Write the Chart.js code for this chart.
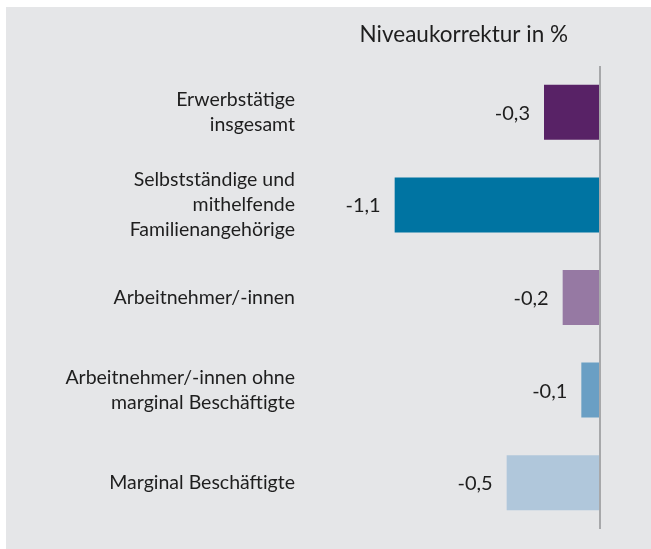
<!DOCTYPE html>
<html lang="de">
<head>
<meta charset="utf-8">
<title>Niveaukorrektur in %</title>
<script src="https://cdn.jsdelivr.net/npm/chart.js@4.4.2/dist/chart.umd.min.js"></script>
<style>
  html, body { margin: 0; padding: 0; background: #ffffff; }
  #panel {
    position: absolute; left: 6px; top: 7px;
    width: 645px; height: 542px;
    background: #e5e6e8;
  }
  #chart { display: block; }
</style>
</head>
<body>
<div id="panel"><canvas id="chart" width="645" height="542"></canvas></div>
<script>
// ── Data ───────────────────────────────────────────────────
const categories = [
  ['Erwerbstätige', 'insgesamt'],
  ['Selbstständige und', 'mithelfende', 'Familienangehörige'],
  'Arbeitnehmer/-innen',
  ['Arbeitnehmer/-innen ohne', 'marginal Beschäftigte'],
  'Marginal Beschäftigte',
];
const values = [-0.3, -1.1, -0.2, -0.1, -0.5];
const axisTitle = 'Niveaukorrektur in %';

const barColors = ['#582266', '#0074a2', '#9679a3', '#6a9fc4', '#b0c7db'];
const textColor = '#1e1e1e';
const fontFamily = 'Lato, "Open Sans", sans-serif';

const fmt = v => v.toFixed(1).replace('.', ',');

// value labels left of each bar + the axis title
const labelPlugin = {
  id: 'labels',
  afterDatasetsDraw(chart) {
    const { ctx, chartArea } = chart;
    ctx.save();
    ctx.fillStyle = textColor;
    ctx.font = '20px ' + fontFamily;
    ctx.textAlign = 'right';
    ctx.textBaseline = 'middle';
    chart.getDatasetMeta(0).data.forEach((bar, i) => {
      ctx.fillText(fmt(values[i]), bar.x - 14, bar.y + 1);
    });
    ctx.font = '22.5px ' + fontFamily;
    ctx.textBaseline = 'alphabetic';
    ctx.fillText(axisTitle, chartArea.right - 32, 35);
    ctx.restore();
  }
};

new Chart(document.getElementById('chart'), {
  type: 'bar',
  data: {
    labels: categories,
    datasets: [{
      data: values,
      backgroundColor: barColors,
      borderWidth: 0,
      categoryPercentage: 1,
      barPercentage: 0.594,
    }]
  },
  options: {
    indexAxis: 'y',
    responsive: false,
    animation: false,
    layout: { padding: { top: 59, right: 51, bottom: 20, left: 0 } },
    plugins: { legend: { display: false }, tooltip: { enabled: false } },
    scales: {
      x: {
        display: true,
        min: -1.5,
        max: 0,
        afterFit: s => { s.height = 0; s.paddingLeft = 0; s.paddingRight = 0; },
        ticks: { display: false, stepSize: 0.5 },
        border: { display: false },
        grid: {
          drawTicks: false,
          lineWidth: 2,
          color: c => (c.tick && c.tick.value === 0) ? '#a7a8aa' : 'rgba(0,0,0,0)',
        },
      },
      y: {
        afterFit: s => { s.width = 314; s.paddingTop = 0; s.paddingBottom = 0; },
        border: { display: false },
        grid: { display: false, drawTicks: false },
        ticks: {
          color: textColor,
          padding: 25,
          font: { family: fontFamily, size: 19.5, lineHeight: 1.28 },
        },
      },
    },
  },
  plugins: [labelPlugin],
});
</script>
</body>
</html>
